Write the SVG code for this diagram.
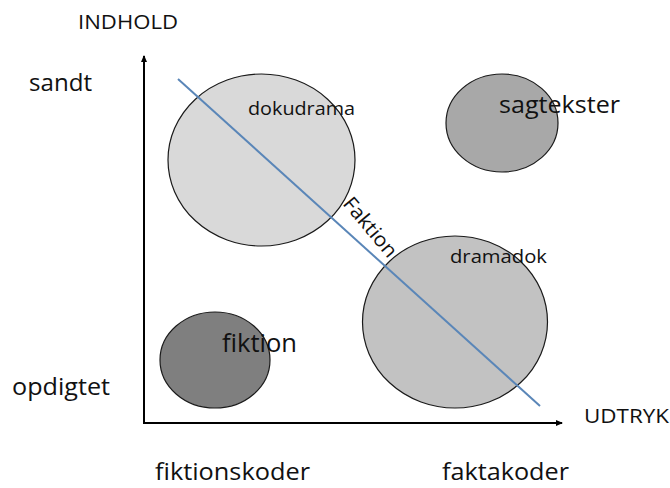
<svg xmlns="http://www.w3.org/2000/svg" width="670" height="488" viewBox="0 0 670 488">
<defs>
<style>
text{font-family:"Open Sans","Noto Sans","Liberation Sans",sans-serif;fill:#111}
.e{stroke:#1a1a1a;stroke-width:1.2}
.ax{stroke:#000;stroke-width:2;fill:none}
</style>
<marker id="ah" markerWidth="8" markerHeight="8" refX="6" refY="4" orient="auto" markerUnits="userSpaceOnUse">
<path d="M0,1 L7,4 L0,7 Z" fill="#000"/>
</marker>
</defs>
<rect width="670" height="488" fill="#fff"/>
<g id="axes">
<line class="ax" x1="144" y1="423" x2="144" y2="56" marker-end="url(#ah)"/>
<line class="ax" x1="143" y1="423" x2="562" y2="423" marker-end="url(#ah)"/>
</g>
<g id="dokudrama"><ellipse class="e" cx="261.5" cy="160" rx="93.5" ry="86" fill="#d9d9d9"/></g>
<g id="sagtekster"><ellipse class="e" cx="502" cy="123" rx="56" ry="49" fill="#a8a8a8"/></g>
<g id="dramadok"><ellipse class="e" cx="455" cy="322" rx="92.5" ry="86" fill="#c2c2c2"/></g>
<g id="fiktion"><ellipse class="e" cx="215" cy="360" rx="55" ry="48" fill="#7f7f7f"/></g>
<g id="connectors">
<line x1="178" y1="79" x2="540" y2="406" stroke="#5a86b8" stroke-width="2"/>
</g>
<g id="labels">
<text x="78" y="29" font-size="20" textLength="100" lengthAdjust="spacingAndGlyphs">INDHOLD</text>
<text x="29" y="91" font-size="24" textLength="63" lengthAdjust="spacingAndGlyphs">sandt</text>
<text x="12" y="395" font-size="24" textLength="98" lengthAdjust="spacingAndGlyphs">opdigtet</text>
<text x="584" y="423" font-size="20" textLength="85" lengthAdjust="spacingAndGlyphs">UDTRYK</text>
<text x="155" y="480" font-size="23" textLength="155" lengthAdjust="spacingAndGlyphs">fiktionskoder</text>
<text x="442" y="480" font-size="23" textLength="127" lengthAdjust="spacingAndGlyphs">faktakoder</text>
<text x="248" y="115" font-size="19" textLength="107" lengthAdjust="spacingAndGlyphs">dokudrama</text>
<text x="499" y="113" font-size="24" textLength="121" lengthAdjust="spacingAndGlyphs">sagtekster</text>
<text x="450" y="263" font-size="18" textLength="97" lengthAdjust="spacingAndGlyphs">dramadok</text>
<text x="222" y="352" font-size="25" textLength="75" lengthAdjust="spacingAndGlyphs">fiktion</text>
<text transform="translate(342,204) rotate(50)" font-size="20" textLength="72" lengthAdjust="spacingAndGlyphs">Faktion</text>
</g>
</svg>
